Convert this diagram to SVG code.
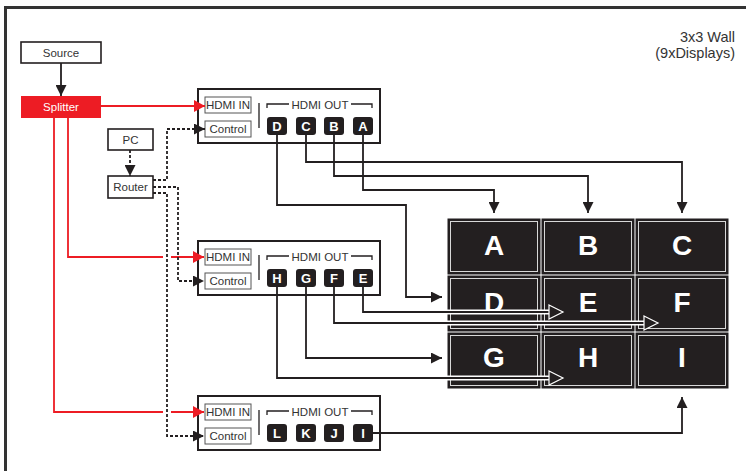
<svg xmlns="http://www.w3.org/2000/svg" width="746" height="471" viewBox="0 0 746 471">
<defs>
<style>
.t{font-family:"Liberation Sans",Arial,sans-serif;font-size:11.5px;fill:#333;text-anchor:middle}
.box{fill:#fff;stroke:#231f20;stroke-width:1.6}
.dev{fill:#fff;stroke:#231f20;stroke-width:2}
.inb{fill:#fff;stroke:#555;stroke-width:1}
.btn{fill:#231f20}
.bt{font-family:"Liberation Sans",Arial,sans-serif;font-size:13px;font-weight:bold;fill:#fff;text-anchor:middle}
.dsp{fill:#231f20;stroke:#231f20;stroke-width:1}
.din{fill:none;stroke:#d8d8d8;stroke-width:1}
.dt{font-family:"Liberation Sans",Arial,sans-serif;font-size:28px;font-weight:bold;fill:#fff;text-anchor:middle}
.ln{fill:none;stroke:#231f20;stroke-width:1.8}
.cas{fill:none;stroke:#fff;stroke-width:5}
.red{fill:none;stroke:#ed1c24;stroke-width:1.8}
.dash{fill:none;stroke:#231f20;stroke-width:1.8;stroke-dasharray:3 2}
.thin{fill:none;stroke:#231f20;stroke-width:1.3}
.big{font-family:"Liberation Sans",Arial,sans-serif;font-size:14.5px;fill:#333;text-anchor:end}
</style>
<marker id="a" viewBox="0 0 11 11" refX="11" refY="5.5" markerWidth="11" markerHeight="11" markerUnits="userSpaceOnUse" orient="auto"><path d="M0,0L11,5.5L0,11z" fill="#231f20"/></marker>
<marker id="ar" viewBox="0 0 11 12" refX="11" refY="6" markerWidth="11" markerHeight="12" markerUnits="userSpaceOnUse" orient="auto"><path d="M0,0L11,6L0,12z" fill="#ed1c24"/></marker>
<marker id="ah" viewBox="-1 -1 17 16" refX="14" refY="7" markerWidth="17" markerHeight="16" markerUnits="userSpaceOnUse" orient="auto"><path d="M0,0L14,7L0,14z" fill="#231f20" stroke="#fff" stroke-width="1.2"/></marker>
</defs>
<rect width="746" height="471" fill="#fff"/>
<rect x="5.5" y="7.5" width="760" height="480" fill="none" stroke="#333" stroke-width="3"/>

<g id="title">
<text class="big" x="735" y="42">3x3 Wall</text>
<text class="big" x="735" y="58">(9xDisplays)</text>
</g>

<g id="source"><rect class="box" x="21" y="42" width="80" height="21"/><text class="t" x="61" y="56.5">Source</text></g>
<g id="splitter"><rect x="21" y="96" width="80" height="22" fill="#ed1c24"/><text class="t" x="61" y="111" style="fill:#fff">Splitter</text></g>
<g id="pc"><rect class="box" x="108" y="129" width="45" height="21"/><text class="t" x="130.5" y="143.5">PC</text></g>
<g id="router"><rect class="box" x="108" y="176" width="45" height="22"/><text class="t" x="130.5" y="191">Router</text></g>

<g id="dev1">
<rect class="dev" x="198" y="89" width="182" height="54"/>
<rect class="inb" x="205" y="97" width="46" height="16"/><text class="t" x="228" y="109">HDMI IN</text>
<rect class="inb" x="205" y="121" width="46" height="16"/><text class="t" x="228" y="133">Control</text>
<path class="thin" d="M259,103V128M267,108V104H289M351,104H372V108"/>
<text class="t" x="320" y="109">HDMI OUT</text>
<rect class="btn" x="267" y="117" width="20" height="18" rx="3"/><text class="bt" x="277" y="131">D</text>
<rect class="btn" x="296" y="117" width="20" height="18" rx="3"/><text class="bt" x="306" y="131">C</text>
<rect class="btn" x="324" y="117" width="20" height="18" rx="3"/><text class="bt" x="334" y="131">B</text>
<rect class="btn" x="353" y="117" width="20" height="18" rx="3"/><text class="bt" x="363" y="131">A</text>
</g>

<g id="dev2">
<rect class="dev" x="198" y="241" width="182" height="54"/>
<rect class="inb" x="205" y="249" width="46" height="16"/><text class="t" x="228" y="261">HDMI IN</text>
<rect class="inb" x="205" y="273" width="46" height="16"/><text class="t" x="228" y="285">Control</text>
<path class="thin" d="M259,255V280M267,260V256H289M351,256H372V260"/>
<text class="t" x="320" y="261">HDMI OUT</text>
<rect class="btn" x="267" y="269" width="20" height="18" rx="3"/><text class="bt" x="277" y="283">H</text>
<rect class="btn" x="296" y="269" width="20" height="18" rx="3"/><text class="bt" x="306" y="283">G</text>
<rect class="btn" x="324" y="269" width="20" height="18" rx="3"/><text class="bt" x="334" y="283">F</text>
<rect class="btn" x="353" y="269" width="20" height="18" rx="3"/><text class="bt" x="363" y="283">E</text>
</g>

<g id="dev3">
<rect class="dev" x="198" y="396" width="182" height="54"/>
<rect class="inb" x="205" y="404" width="46" height="16"/><text class="t" x="228" y="416">HDMI IN</text>
<rect class="inb" x="205" y="428" width="46" height="16"/><text class="t" x="228" y="440">Control</text>
<path class="thin" d="M259,410V435M267,415V411H289M351,411H372V415"/>
<text class="t" x="320" y="416">HDMI OUT</text>
<rect class="btn" x="267" y="424" width="20" height="18" rx="3"/><text class="bt" x="277" y="438">L</text>
<rect class="btn" x="296" y="424" width="20" height="18" rx="3"/><text class="bt" x="306" y="438">K</text>
<rect class="btn" x="324" y="424" width="20" height="18" rx="3"/><text class="bt" x="334" y="438">J</text>
<rect class="btn" x="353" y="424" width="20" height="18" rx="3"/><text class="bt" x="363" y="438">I</text>
</g>

<g id="wall">
<g id="disp-A"><rect class="dsp" x="448" y="219" width="92" height="55"/><rect class="din" x="450.5" y="221.5" width="87" height="50"/><text class="dt" x="494" y="255">A</text></g>
<g id="disp-B"><rect class="dsp" x="542" y="219" width="92" height="55"/><rect class="din" x="544.5" y="221.5" width="87" height="50"/><text class="dt" x="588" y="255">B</text></g>
<g id="disp-C"><rect class="dsp" x="636" y="219" width="92" height="55"/><rect class="din" x="638.5" y="221.5" width="87" height="50"/><text class="dt" x="682" y="255">C</text></g>
<g id="disp-D"><rect class="dsp" x="448" y="276" width="92" height="55"/><rect class="din" x="450.5" y="278.5" width="87" height="50"/><text class="dt" x="494" y="312">D</text></g>
<g id="disp-E"><rect class="dsp" x="542" y="276" width="92" height="55"/><rect class="din" x="544.5" y="278.5" width="87" height="50"/><text class="dt" x="588" y="312">E</text></g>
<g id="disp-F"><rect class="dsp" x="636" y="276" width="92" height="55"/><rect class="din" x="638.5" y="278.5" width="87" height="50"/><text class="dt" x="682" y="312">F</text></g>
<g id="disp-G"><rect class="dsp" x="448" y="333" width="92" height="55"/><rect class="din" x="450.5" y="335.5" width="87" height="50"/><text class="dt" x="494" y="367">G</text></g>
<g id="disp-H"><rect class="dsp" x="542" y="333" width="92" height="55"/><rect class="din" x="544.5" y="335.5" width="87" height="50"/><text class="dt" x="588" y="367">H</text></g>
<g id="disp-I"><rect class="dsp" x="636" y="333" width="92" height="55"/><rect class="din" x="638.5" y="335.5" width="87" height="50"/><text class="dt" x="682" y="367">I</text></g>
</g>

<g id="connectors">
<path class="ln" d="M61,63V96" marker-end="url(#a)"/>
<path class="dash" d="M130,150V176" marker-end="url(#a)"/>
<path class="red" d="M101,106H205" marker-end="url(#ar)"/>
<path class="red" d="M68,118V257H163"/>
<path class="red" d="M171,257H204" marker-end="url(#ar)"/>
<path class="red" d="M54,118V412H163"/>
<path class="red" d="M171,412H204" marker-end="url(#ar)"/>
<path class="dash" d="M153,180H167V129H205" marker-end="url(#a)"/>
<path class="dash" d="M153,187H178V281H204" marker-end="url(#a)"/>
<path class="dash" d="M153,193H167V436H204" marker-end="url(#a)"/>
<path class="ln" d="M277,135V205H406V297H442" marker-end="url(#a)"/>
<path class="ln" d="M306,135V162H682V213" marker-end="url(#a)"/>
<path class="ln" d="M334,135V176H588V213" marker-end="url(#a)"/>
<path class="ln" d="M363,135V190H494V213" marker-end="url(#a)"/>
<path class="ln" d="M306,287V358H442" marker-end="url(#a)"/>
<path class="cas" d="M363,312H556"/>
<path class="ln" d="M363,287V312H563" marker-end="url(#ah)"/>
<path class="cas" d="M334,323H651"/>
<path class="ln" d="M334,287V323H658" marker-end="url(#ah)"/>
<path class="cas" d="M277,378H556"/>
<path class="ln" d="M277,287V378H563" marker-end="url(#ah)"/>
<path class="ln" d="M373,433H682V397" marker-end="url(#a)"/>
</g>
</svg>
